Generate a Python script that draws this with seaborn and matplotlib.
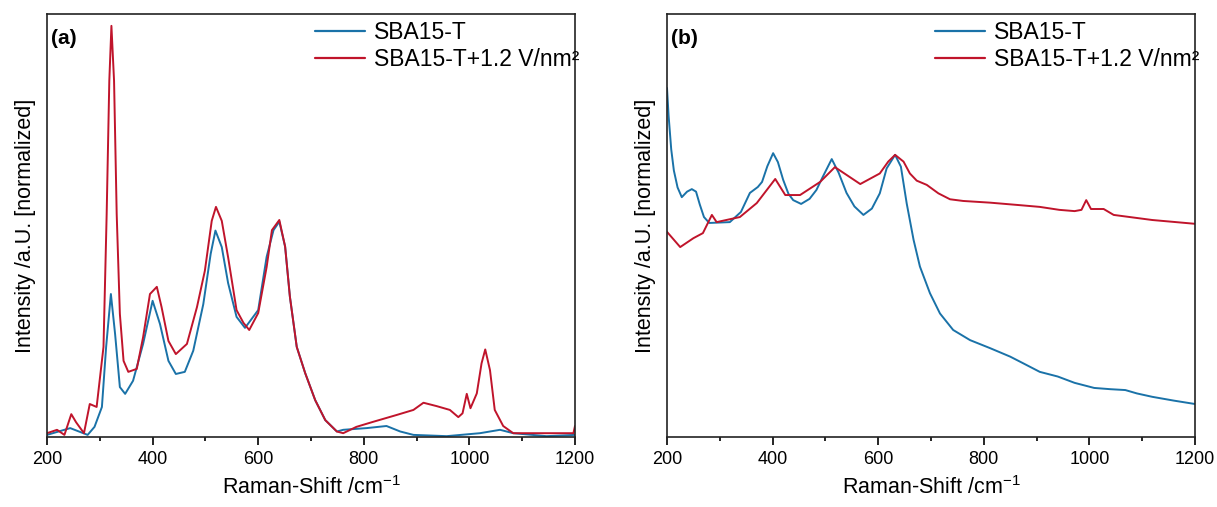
import numpy as np
import pandas as pd
import matplotlib
matplotlib.use("Agg")
import matplotlib.pyplot as plt
import seaborn as sns

# ---------------- data ----------------
# Panel (a)
a_red_x = [200, 219, 233, 246, 255, 270, 281, 294, 307, 313, 318, 322, 327, 332, 338, 345, 354, 370,
           382, 395, 408, 417, 430, 444, 465, 484, 499, 512, 520, 531, 543, 559, 572, 583, 600,
           616, 626, 640, 651, 660, 673, 689, 708, 727, 749, 761, 786, 818, 862, 894, 913, 938,
           963, 979, 987, 995, 1002, 1014, 1023, 1030, 1039, 1048, 1064, 1083, 1146, 1197, 1200]
a_red_y = [0.9, 1.7, 0.5, 5.4, 3.5, 0.9, 7.8, 7.1, 21.3, 52.7, 84.2, 97.2, 84.2, 52.7, 29.1, 18.0, 15.4, 16.1,
           23.6, 33.8, 35.5, 30.7, 22.7, 19.6, 22.0, 30.7, 39.3, 51.1, 54.4, 51.1, 42.5, 30.0, 27.0, 25.3, 29.3,
           40.2, 48.9, 51.3, 45.0, 33.2, 21.3, 15.1, 8.7, 4.0, 1.3, 0.9, 2.4, 3.6, 5.2, 6.4, 8.1, 7.3,
           6.4, 4.7, 5.6, 10.2, 6.8, 10.3, 17.4, 20.7, 15.8, 6.4, 2.6, 0.9, 0.9, 0.9, 2.6]
a_blue_x = [200, 244, 277, 290, 304, 312, 321, 329, 338, 348, 363, 382, 400, 414, 430, 444, 461,
            477, 496, 510, 519, 531, 543, 559, 575, 600, 616, 629, 640, 651, 660, 673, 689, 708,
            727, 749, 761, 805, 843, 869, 894, 957, 1020, 1058, 1083, 1146, 1200]
a_blue_y = [0.5, 2.1, 0.5, 2.4, 7.1, 21.3, 33.8, 24.3, 11.8, 10.2, 13.3, 22.0, 32.2, 26.7, 18.0, 14.9, 15.4,
            20.4, 31.4, 43.3, 48.8, 44.9, 36.4, 28.4, 25.8, 30.0, 42.6, 48.9, 50.9, 45.0, 33.2, 21.3, 15.1, 8.7,
            4.0, 1.3, 1.7, 2.1, 2.6, 1.3, 0.5, 0.2, 0.9, 1.7, 0.9, 0.2, 0.5]

# Panel (b)
b_blue_x = [200, 203, 208, 213, 220, 228, 238, 247, 255, 262, 270, 280, 319, 340, 357, 372, 380,
            390, 401, 410, 420, 430, 439, 454, 470, 483, 495, 512, 525, 540, 555, 572, 588, 603,
            616, 632, 643, 654, 667, 679, 698, 717, 742, 774, 812, 850, 875, 906, 940, 972, 1009,
            1040, 1068, 1090, 1119, 1160, 1200]
b_blue_y = [82.5, 76.0, 68.0, 63.0, 59.0, 56.7, 58.0, 58.6, 58.0, 55.0, 52.0, 50.6, 50.8, 53.2, 57.7, 59.1, 60.3,
            64.0, 67.1, 65.0, 60.8, 57.5, 56.0, 55.1, 56.3, 58.4, 61.5, 65.7, 62.5, 57.7, 54.5, 52.5, 54.0, 57.6,
            63.5, 66.7, 63.9, 55.2, 46.6, 40.3, 34.0, 29.2, 25.3, 22.9, 21.0, 19.0, 17.4, 15.4, 14.3, 12.8, 11.6,
            11.3, 11.1, 10.3, 9.5, 8.6, 7.8]
b_red_x = [200, 225, 250, 268, 285, 294, 338, 370, 405, 424, 452, 490, 518, 566, 603, 619, 632,
           648, 660, 673, 692, 714, 736, 761, 812, 869, 906, 943, 972, 985, 994, 1003, 1027, 1046,
           1119, 1200]
b_red_y = [48.5, 44.9, 47.0, 48.2, 52.5, 50.8, 52.0, 55.3, 61.0, 57.2, 57.2, 60.3, 63.8, 59.8, 62.3, 65.1, 66.7,
           65.1, 62.3, 60.6, 59.6, 57.6, 56.2, 55.8, 55.4, 54.8, 54.4, 53.7, 53.4, 53.7, 56.0, 53.9, 53.9, 52.5,
           51.3, 50.4]

series_names = ["SBA15-T", "SBA15-T+1.2 V/nm²"]
panel_labels = ["(a)", "(b)"]
x_ticks = [200, 400, 600, 800, 1000, 1200]

# ---------------- style ----------------
sns.set_theme(style="ticks")
plt.rcParams["font.family"] = ["Liberation Sans", "DejaVu Sans"]
plt.rcParams["mathtext.fontset"] = "custom"
plt.rcParams["mathtext.rm"] = "Liberation Sans"
plt.rcParams["mathtext.it"] = "Liberation Sans:italic"
plt.rcParams["mathtext.bf"] = "Liberation Sans:bold"
plt.rcParams["axes.linewidth"] = 1.2
plt.rcParams["text.color"] = "black"
plt.rcParams["axes.labelcolor"] = "black"
plt.rcParams["xtick.color"] = "black"

BLUE = "#1a72a8"
RED = "#c0142b"

fig = plt.figure(figsize=(12.17, 5.07), dpi=100)
ax_a = fig.add_axes([47 / 1217, 70 / 507, 528 / 1217, 423 / 507])
ax_b = fig.add_axes([667 / 1217, 70 / 507, 528 / 1217, 423 / 507])

panels = [
    (ax_a, [(a_blue_x, a_blue_y), (a_red_x, a_red_y)]),
    (ax_b, [(b_blue_x, b_blue_y), (b_red_x, b_red_y)]),
]

for (ax, data), plabel in zip(panels, panel_labels):
    frames = []
    for name, (xs, ys) in zip(series_names, data):
        frames.append(pd.DataFrame({"x": xs, "y": ys, "series": name}))
    df = pd.concat(frames, ignore_index=True)
    sns.lineplot(data=df, x="x", y="y", hue="series", hue_order=series_names,
                 palette=[BLUE, RED], estimator=None, sort=False, linewidth=1.4, ax=ax)
    ax.set_xlim(200, 1200)
    ax.set_ylim(0, 100)
    ax.set_xticks(x_ticks)
    ax.set_xticks([300, 500, 700, 900, 1100], minor=True)
    ax.set_yticks([])
    ax.tick_params(axis="x", which="major", direction="out", length=6, width=1.2,
                   labelsize=13, pad=4, colors="black")
    ax.tick_params(axis="x", which="minor", direction="out", length=3, width=1.2)
    for sp in ax.spines.values():
        sp.set_visible(True)
        sp.set_color("#222222")
    ax.set_xlabel("Raman-Shift /cm$^{-1}$", fontsize=15.5, labelpad=6)
    ax.set_ylabel("Intensity /a.U. [normalized]", fontsize=15.5, labelpad=8)
    ax.text(0.008, 0.965, plabel, transform=ax.transAxes, fontsize=15,
            fontweight="bold", va="top", ha="left")
    leg = ax.legend(loc="upper right", bbox_to_anchor=(1.035, 1.015), frameon=False,
                    fontsize=16.5, handlelength=2.2, handletextpad=0.4, labelspacing=0.15,
                    borderaxespad=0.2)
    for line in leg.get_lines():
        line.set_linewidth(1.6)

fig.savefig("out.png", dpi=100)
